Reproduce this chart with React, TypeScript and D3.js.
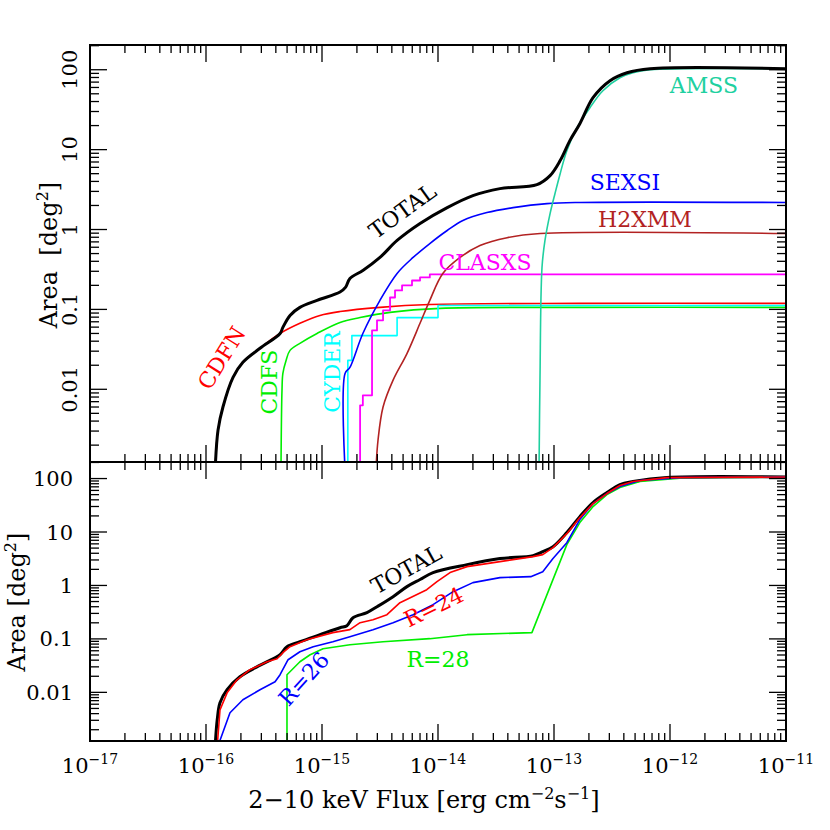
import React from 'react';
import * as d3 from 'd3';

type Pt = [number, number];

// ---- upper panel: sky coverage per survey, [2-10 keV flux, area deg^2]
const totalTop: Pt[] = [
  [1.2e-16, 0.001], [1.27e-16, 0.0031], [1.4e-16, 0.006], [1.71e-16, 0.0141],
  [2.08e-16, 0.0218], [2.92e-16, 0.0326], [4.35e-16, 0.05], [4.6e-16, 0.0596],
  [5.3e-16, 0.084], [6.45e-16, 0.106], [9.06e-16, 0.13], [1.43e-15, 0.165],
  [1.6e-15, 0.19], [1.74e-15, 0.244], [2.25e-15, 0.307], [3.16e-15, 0.447],
  [4.44e-15, 0.729], [7.0e-15, 1.19], [1.2e-14, 1.88], [2.0e-14, 2.66],
  [3.42e-14, 3.25], [7.13e-14, 3.65], [9.25e-14, 4.73], [1.13e-13, 7.29],
  [1.37e-13, 12.96], [1.67e-13, 21.1], [2.17e-13, 44.7], [3.04e-13, 72.9],
  [4.26e-13, 91.7], [6.73e-13, 102.9], [1e-11, 102.9],
];
const cdfn: Pt[] = [
  [1.2e-16, 0.001], [1.27e-16, 0.0031], [1.4e-16, 0.006], [1.71e-16, 0.0141],
  [2.08e-16, 0.0218], [2.92e-16, 0.0326], [4.35e-16, 0.05], [6.45e-16, 0.067],
  [9.6e-16, 0.084], [1.43e-15, 0.094], [3.16e-15, 0.106], [8.5e-15, 0.115],
  [1.67e-13, 0.119], [1e-11, 0.119],
];
const cdfs: Pt[] = [
  [4.43e-16, 0.001], [4.52e-16, 0.0097], [4.6e-16, 0.0158], [4.9e-16, 0.023],
  [5.3e-16, 0.0307], [6.45e-16, 0.0376], [9.06e-16, 0.05], [1.43e-15, 0.0688],
  [2.13e-15, 0.079], [3.86e-15, 0.0917], [1.04e-14, 0.103], [1.67e-13, 0.106],
  [1e-11, 0.106],
];
// step curves
const cyder: Pt[] = [
  [1.67e-15, 0.001], [1.67e-15, 0.023], [1.81e-15, 0.047], [4.44e-15, 0.079],
  [1.0e-14, 0.112], [1e-11, 0.112],
];
const clasxs: Pt[] = [
  [2.13e-15, 0.001], [2.13e-15, 0.0063], [2.25e-15, 0.0084], [2.7e-15, 0.0546],
  [2.98e-15, 0.073], [3.36e-15, 0.097], [3.86e-15, 0.141], [4.26e-15, 0.173],
  [4.9e-15, 0.2], [5.97e-15, 0.23], [7.0e-15, 0.251], [8.5e-15, 0.274],
  [1e-11, 0.274],
];
const sexsi: Pt[] = [
  [1.58e-15, 0.001], [1.58e-15, 0.0158], [1.74e-15, 0.0188], [2.25e-15, 0.05],
  [3.16e-15, 0.13], [4.44e-15, 0.282], [6.1e-15, 0.447], [8.5e-15, 0.668],
  [1.2e-14, 0.972], [1.64e-14, 1.3], [2.64e-14, 1.63], [4.44e-14, 1.88],
  [8.7e-14, 2.11], [1.67e-13, 2.18], [1e-11, 2.18],
];
const h2xmm: Pt[] = [
  [2.92e-15, 0.001], [3.04e-15, 0.0023], [3.36e-15, 0.006], [4.1e-15, 0.013],
  [5.4e-15, 0.028], [7.0e-15, 0.067], [8.5e-15, 0.13], [1.1e-14, 0.282],
  [1.55e-14, 0.447], [2.3e-14, 0.63], [3.94e-14, 0.79], [7.6e-14, 0.89],
  [1e-11, 0.89],
];
const amss: Pt[] = [
  [7.43e-14, 0.001], [7.57e-14, 0.013], [7.88e-14, 0.335], [8.36e-14, 0.729],
  [9.25e-14, 1.58], [1.02e-13, 2.82], [1.13e-13, 5.0], [1.29e-13, 9.7],
  [1.58e-13, 18.8], [2.04e-13, 33.5], [2.64e-13, 54.6], [3.7e-13, 79.4],
  [4.8e-13, 91.7], [6.73e-13, 100], [1.3e-12, 102.9], [1e-11, 102.9],
];

// ---- lower panel: total area for optical magnitude limits
const totalBot: Pt[] = [
  [1.2e-16, 0.001], [1.25e-16, 0.0031], [1.32e-16, 0.0064], [1.52e-16, 0.0112],
  [1.96e-16, 0.0196], [2.75e-16, 0.03], [3.78e-16, 0.0426], [4.35e-16, 0.0506],
  [4.99e-16, 0.0714], [6.45e-16, 0.0887], [9.6e-16, 0.12], [1.43e-15, 0.162],
  [1.64e-15, 0.177], [1.85e-15, 0.249], [2.44e-15, 0.31], [2.98e-15, 0.4],
  [4.1e-15, 0.617], [5.4e-15, 0.95], [7.0e-15, 1.29], [9.06e-15, 1.74],
  [1.78e-14, 2.45], [3.42e-14, 3.18], [6.6e-14, 3.62], [8.0e-14, 4.3],
  [9.8e-14, 5.3], [1.29e-13, 9.75], [1.67e-13, 19.4], [2.17e-13, 35.6],
  [2.86e-13, 54.7], [3.7e-13, 77.3], [4.8e-13, 88], [9.4e-13, 104.4],
  [1e-11, 106.6],
];
const r24: Pt[] = [
  [1.25e-16, 0.001], [1.32e-16, 0.0047], [1.52e-16, 0.0098], [1.85e-16, 0.0172],
  [2.39e-16, 0.0265], [3.36e-16, 0.0374], [4.1e-16, 0.0426], [4.6e-16, 0.0552],
  [5.3e-16, 0.0714], [7.4e-16, 0.0966], [1.24e-15, 0.131], [1.74e-15, 0.149],
  [2.13e-15, 0.201], [2.75e-15, 0.229], [3.63e-15, 0.284], [4.7e-15, 0.476],
  [8.0e-15, 0.834], [9.8e-15, 1.18], [1.27e-14, 1.74], [1.78e-14, 2.25],
  [3.42e-14, 2.79], [6.6e-14, 3.46], [8.0e-14, 3.77], [9.8e-14, 5.1],
  [1.29e-13, 9.3], [1.67e-13, 18.6], [2.17e-13, 34], [2.86e-13, 52.4],
  [3.7e-13, 74], [4.8e-13, 88], [9.4e-13, 104], [1e-11, 106.6],
];
const r26: Pt[] = [
  [1.27e-16, 0.001], [1.61e-16, 0.00415], [2.08e-16, 0.00726], [2.92e-16, 0.0112],
  [3.94e-16, 0.0158], [4.35e-16, 0.0214], [5.1e-16, 0.0408], [6.45e-16, 0.0575],
  [8.4e-16, 0.0714], [1.24e-15, 0.0887], [1.74e-15, 0.11], [2.75e-15, 0.149],
  [4.1e-15, 0.201], [6.1e-15, 0.284], [9.06e-15, 0.437], [1.35e-14, 0.765],
  [2.0e-14, 1.13], [3.42e-14, 1.4], [6.3e-14, 1.46], [8.0e-14, 1.81],
  [9.8e-14, 3.18], [1.29e-13, 6.3], [1.67e-13, 17.1], [2.17e-13, 34],
  [2.86e-13, 52.4], [3.7e-13, 70.8], [5.5e-13, 91.8], [1.22e-12, 104],
  [1e-11, 106.6],
];
const r28: Pt[] = [
  [4.99e-16, 0.001], [4.99e-16, 0.0214], [6.45e-16, 0.0374], [7.9e-16, 0.0506],
  [1.02e-15, 0.0655], [1.74e-15, 0.0778], [3.36e-15, 0.0887], [8.5e-15, 0.101],
  [1.78e-14, 0.12], [6.45e-14, 0.131], [1.29e-13, 5.8], [1.67e-13, 15],
  [2.17e-13, 29.9], [2.86e-13, 50], [3.7e-13, 67.8], [5.5e-13, 88],
  [1.22e-12, 102], [1e-11, 106.6],
];

const xTickExps = [-17, -16, -15, -14, -13, -12, -11];
const yTickValues = [0.01, 0.1, 1, 10, 100];
const yTickLabels = ['0.01', '0.1', '1', '10', '100'];

const FONT = '"DejaVu Serif", "Liberation Serif", serif';
const AREA_DOMAIN = [0.00123, 204];

const isMajor = (v: number) => Math.abs(Math.log10(v) - Math.round(Math.log10(v))) < 1e-6;

function Frame({ x, y }: any) {
  const [xl, xr] = x.range();
  const [yb, yt] = y.range();
  const items: any[] = [];
  x.ticks().forEach((v: number, i: number) => {
    const px = x(v);
    const len = isMajor(v) ? 17 : 8;
    items.push(<line key={'xb' + i} x1={px} x2={px} y1={yb} y2={yb - len} />);
    items.push(<line key={'xt' + i} x1={px} x2={px} y1={yt} y2={yt + len} />);
  });
  y.ticks().forEach((v: number, i: number) => {
    const py = y(v);
    const len = isMajor(v) ? 17 : 9;
    items.push(<line key={'yl' + i} x1={xl} x2={xl + len} y1={py} y2={py} />);
    items.push(<line key={'yr' + i} x1={xr} x2={xr - len} y1={py} y2={py} />);
  });
  return (
    <g stroke="#000" strokeWidth={1.3} fill="none">
      {items}
      <rect x={xl} y={yt} width={xr - xl} height={yb - yt} strokeWidth={2} />
    </g>
  );
}

export default function App() {
  const x = d3.scaleLog().domain([1e-17, 1e-11]).range([90, 786]);
  const yTop = d3.scaleLog().domain(AREA_DOMAIN).range([462, 45]);
  const yBot = d3.scaleLog().domain(AREA_DOMAIN).range([741, 462]);

  const smooth = d3.curveCatmullRom.alpha(0.5);
  const lineTop = d3.line<Pt>().x(d => x(d[0])).y(d => yTop(d[1])).curve(smooth);
  const stepTop = d3.line<Pt>().x(d => x(d[0])).y(d => yTop(d[1])).curve(d3.curveStepAfter);
  const smoothBot = d3.line<Pt>().x(d => x(d[0])).y(d => yBot(d[1])).curve(smooth);
  const polyBot = d3.line<Pt>().x(d => x(d[0])).y(d => yBot(d[1]));

  const topSeries = [
    { data: cdfn, color: '#ff0000', gen: lineTop, w: 1.6 },
    { data: cdfs, color: '#00ee00', gen: lineTop, w: 1.6 },
    { data: cyder, color: '#00ffff', gen: stepTop, w: 1.6 },
    { data: clasxs, color: '#ff00ff', gen: stepTop, w: 1.8 },
    { data: sexsi, color: '#0000ff', gen: lineTop, w: 1.6 },
    { data: h2xmm, color: '#b22222', gen: lineTop, w: 1.6 },
    { data: amss, color: '#20d0a0', gen: lineTop, w: 1.6 },
    { data: totalTop, color: '#000000', gen: lineTop, w: 3 },
  ];
  const botSeries = [
    { data: totalBot, color: '#000000', gen: smoothBot, w: 3 },
    { data: r28, color: '#00ee00', gen: polyBot, w: 1.6 },
    { data: r26, color: '#0000ff', gen: polyBot, w: 1.6 },
    { data: r24, color: '#ff0000', gen: polyBot, w: 1.6 },
  ];

  // curve labels placed in data coordinates: [flux, area, rotation]
  const topLabels = [
    { text: 'TOTAL', color: '#000', at: [5.4e-15, 1.43], rot: -36 },
    { text: 'CDFN', color: '#ff0000', at: [1.55e-16, 0.022], rot: -58 },
    { text: 'CDFS', color: '#00ee00', at: [4.1e-16, 0.0123], rot: -90 },
    { text: 'CYDER', color: '#00ffff', at: [1.43e-15, 0.0165], rot: -90 },
    { text: 'CLASXS', color: '#ff00ff', at: [2.54e-14, 0.311], rot: 0 },
    { text: 'SEXSI', color: '#0000ff', at: [4.09e-13, 3.12], rot: 0 },
    { text: 'H2XMM', color: '#b22222', at: [6.08e-13, 1.075], rot: 0 },
    { text: 'AMSS', color: '#20d0a0', at: [1.96e-12, 51], rot: 0 },
  ];
  const botLabels = [
    { text: 'TOTAL', color: '#000', at: [5.74e-15, 1.5], rot: -29 },
    { text: 'R=24', color: '#ff0000', at: [9.8e-15, 0.292], rot: -26 },
    { text: 'R=26', color: '#0000ff', at: [7.8e-16, 0.0143], rot: -48 },
    { text: 'R=28', color: '#00ee00', at: [1.0e-14, 0.0297], rot: 0 },
  ];

  const label = (l: any, y: any, i: number) => (
    <text key={i} transform={`translate(${x(l.at[0])},${y(l.at[1])}) rotate(${l.rot})`}
      textAnchor="middle" fill={l.color} fontSize={22}>{l.text}</text>
  );

  return (
    <svg width={830} height={830} style={{ position: 'absolute', left: 0, top: 0, background: '#fff' }}
      fontFamily={FONT}>
      <defs>
        <clipPath id="clipTop"><rect x={90} y={45} width={696} height={417} /></clipPath>
        <clipPath id="clipBot"><rect x={90} y={462} width={696} height={279} /></clipPath>
      </defs>

      <g clipPath="url(#clipTop)" fill="none" strokeLinejoin="round">
        {topSeries.map((s, i) => (
          <path key={i} d={s.gen(s.data) || ''} stroke={s.color} strokeWidth={s.w} />
        ))}
      </g>
      <g clipPath="url(#clipBot)" fill="none" strokeLinejoin="round">
        {botSeries.map((s, i) => (
          <path key={i} d={s.gen(s.data) || ''} stroke={s.color} strokeWidth={s.w} />
        ))}
      </g>

      <Frame x={x} y={yTop} />
      <Frame x={x} y={yBot} />

      {topLabels.map((l, i) => label(l, yTop, i))}
      {botLabels.map((l, i) => label(l, yBot, 100 + i))}

      {/* y tick labels: rotated in upper panel, horizontal in lower */}
      {yTickValues.map((v, i) => (
        <text key={'yt' + i} transform={`translate(77,${yTop(v)}) rotate(-90)`} textAnchor="middle" fontSize={21}>
          {yTickLabels[i]}
        </text>
      ))}
      {yTickValues.map((v, i) => (
        <text key={'yb' + i} x={73} y={yBot(v) + 7.5} textAnchor="end" fontSize={21}>
          {yTickLabels[i]}
        </text>
      ))}

      {/* x tick labels */}
      {xTickExps.map(e => (
        <text key={'x' + e} x={x(Math.pow(10, e))} y={773} textAnchor="middle" fontSize={21}>
          10<tspan dy={-9} fontSize={14}>{'\u2212' + Math.abs(e)}</tspan>
        </text>
      ))}

      {/* axis titles */}
      <text transform="translate(57,255) rotate(-90)" textAnchor="middle" fontSize={24}>
        {'Area\u00a0\u00a0[deg'}<tspan dy={-9} fontSize={16}>2</tspan><tspan dy={9}>]</tspan>
      </text>
      <text transform="translate(25,602) rotate(-90)" textAnchor="middle" fontSize={24}>
        {'Area [deg'}<tspan dy={-9} fontSize={16}>2</tspan><tspan dy={9}>]</tspan>
      </text>
      <text x={424} y={808} textAnchor="middle" fontSize={24}>
        {'2\u221210 keV Flux [erg cm'}<tspan dy={-9} fontSize={16}>{'\u22122'}</tspan>
        <tspan dy={9}>s</tspan><tspan dy={-9} fontSize={16}>{'\u22121'}</tspan>
        <tspan dy={9}>]</tspan>
      </text>
    </svg>
  );
}
